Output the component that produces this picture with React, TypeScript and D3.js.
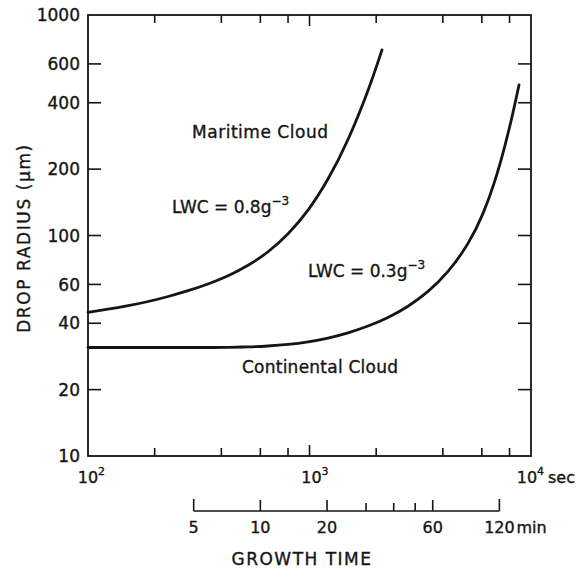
import React from "react";
import * as d3 from "d3";

// Growth time (s) and drop radius (µm) along each curve
const maritimeTime = [100, 123, 152, 187, 230, 283, 348, 429, 528, 650, 800, 985, 1212, 1492, 1837, 2125];
const maritimeRadius = [44.8, 46.3, 48.1, 50.2, 52.9, 56.2, 60.3, 65.7, 73.3, 84.4, 101.9, 130.4, 180.3, 272.5, 455, 695];

const continentalTime = [100, 187, 348, 429, 528, 650, 800, 985, 1212, 1492, 1837, 2261, 2784, 3428, 4220, 5195, 6073, 6879, 7631, 8291, 8828];
const continentalRadius = [31.05, 31.05, 31.05, 31.12, 31.25, 31.54, 32.07, 32.95, 34.28, 36.2, 38.87, 42.52, 47.79, 55.8, 68.7, 92.1, 126.0, 177.8, 256.2, 360.9, 481.5];

// Axis ticks
const yTickValues = [20, 40, 60, 100, 200, 400, 600];
const yTickLabels = [10, 20, 40, 60, 100, 200, 400, 600, 1000];
const xMinorTicks = [200, 400, 600, 800, 2000, 4000, 6000, 8000];
const xMajorTicks = [1000];
const xDecadeExponents = [2, 3, 4];
const minuteTicks = [5, 10, 20, 30, 40, 50, 60, 120];
const minuteLabels = [5, 10, 20, 60, 120];

const W = 576;
const H = 569;
const FONT = "'DejaVu Sans', 'Liberation Sans', sans-serif";
const INK = "#151515";

export default function App() {
  const x = d3.scaleLog().domain([100, 10000]).range([88, 531]);
  const y = d3.scaleLog().domain([10, 1000]).range([456, 15]);
  const [x0, x1] = x.range();
  const [y0, y1] = y.range();

  const line = d3
    .line<[number, number]>()
    .x((d) => x(d[0]))
    .y((d) => y(d[1]))
    .curve(d3.curveNatural);

  const maritime = maritimeTime.map((t, i) => [t, maritimeRadius[i]] as [number, number]);
  const continental = continentalTime.map((t, i) => [t, continentalRadius[i]] as [number, number]);

  const minAxisY = 511;
  const minX = (m: number) => x(m * 60);
  const minFirst = minuteTicks[0];
  const minLast = minuteTicks[minuteTicks.length - 1];

  const textInk = { fill: INK, stroke: INK, strokeWidth: 0.35 };

  return (
    <svg
      width={W}
      height={H}
      viewBox={`0 0 ${W} ${H}`}
      style={{ position: "absolute", left: 0, top: 0, background: "#fff" }}
      fontFamily={FONT}
      fill={INK}
    >
      {/* frame */}
      <rect x={x0} y={y1} width={x1 - x0} height={y0 - y1} fill="none" stroke={INK} strokeWidth={1.8} />

      {/* left and right ticks */}
      {yTickValues.map((v) => (
        <g key={`yt${v}`} stroke={INK} strokeWidth={1.6}>
          <line x1={x0} x2={x0 + 13} y1={y(v)} y2={y(v)} />
          <line x1={x1} x2={x1 - 13} y1={y(v)} y2={y(v)} />
        </g>
      ))}

      {/* bottom and top ticks */}
      {xMinorTicks.map((v) => (
        <g key={`xt${v}`} stroke={INK} strokeWidth={1.6}>
          <line x1={x(v)} x2={x(v)} y1={y0} y2={y0 - 8} />
          <line x1={x(v)} x2={x(v)} y1={y1} y2={y1 + 8} />
        </g>
      ))}
      {xMajorTicks.map((v) => (
        <g key={`xM${v}`} stroke={INK} strokeWidth={1.6}>
          <line x1={x(v)} x2={x(v)} y1={y0} y2={y0 - 11} />
          <line x1={x(v)} x2={x(v)} y1={y1} y2={y1 + 11} />
        </g>
      ))}

      <g {...textInk}>
        {/* y tick labels */}
        {yTickLabels.map((v) => (
          <text key={`yl${v}`} x={80} y={y(v)} dy="0.36em" textAnchor="end" fontSize={17}>
            {v}
          </text>
        ))}

        {/* x decade labels */}
        {xDecadeExponents.map((e) => {
          const px = x(Math.pow(10, e));
          const shift = e === 4 ? -4 : e === 3 ? 2 : 0;
          return (
            <g key={`xl${e}`}>
              <text x={px + shift} y={483} textAnchor="middle" fontSize={16}>
                10
              </text>
              <text x={px + shift + 10} y={475} fontSize={11}>
                {e}
              </text>
              {e === 4 && (
                <text x={px + shift + 21} y={483} fontSize={16}>
                  sec
                </text>
              )}
            </g>
          );
        })}

        {/* y axis title */}
        <text
          transform={`translate(24, 238) rotate(-90)`}
          textAnchor="middle"
          dy="0.36em"
          fontSize={17}
          letterSpacing={1.6}
        >
          DROP RADIUS (μm)
        </text>

        {/* curve annotations */}
        <text x={192} y={138} fontSize={17} textLength={136} lengthAdjust="spacing">
          Maritime Cloud
        </text>
        <text x={172} y={213} fontSize={17}>
          LWC = 0.8g
          <tspan dy={-8} fontSize={12}>
            −3
          </tspan>
        </text>
        <text x={308} y={277} fontSize={17}>
          LWC = 0.3g
          <tspan dy={-8} fontSize={12}>
            −3
          </tspan>
        </text>
        <text x={242} y={373} fontSize={17} textLength={156} lengthAdjust="spacing">
          Continental Cloud
        </text>

        {/* minutes axis labels */}
        {minuteLabels.map((m) => (
          <text key={`ml${m}`} x={minX(m)} y={533} textAnchor="middle" fontSize={16}>
            {m}
          </text>
        ))}
        <text x={minX(minLast) + 17} y={533} fontSize={16}>
          min
        </text>

        <text x={302} y={565} textAnchor="middle" fontSize={17} letterSpacing={1.5}>
          GROWTH TIME
        </text>
      </g>

      {/* curves */}
      <path d={line(maritime) || ""} fill="none" stroke={INK} strokeWidth={2.8} strokeLinecap="round" />
      <path d={line(continental) || ""} fill="none" stroke={INK} strokeWidth={2.8} strokeLinecap="round" />

      {/* minutes axis */}
      <line x1={minX(minFirst)} x2={minX(minLast)} y1={minAxisY} y2={minAxisY} stroke={INK} strokeWidth={1.6} />
      {minuteTicks.map((m) => {
        const isEnd = m === minFirst || m === minLast;
        const labeled = minuteLabels.includes(m);
        const len = isEnd ? 12 : labeled ? 11 : 8;
        return (
          <line
            key={`mt${m}`}
            x1={minX(m)}
            x2={minX(m)}
            y1={minAxisY}
            y2={minAxisY - len}
            stroke={INK}
            strokeWidth={1.6}
          />
        );
      })}
    </svg>
  );
}
